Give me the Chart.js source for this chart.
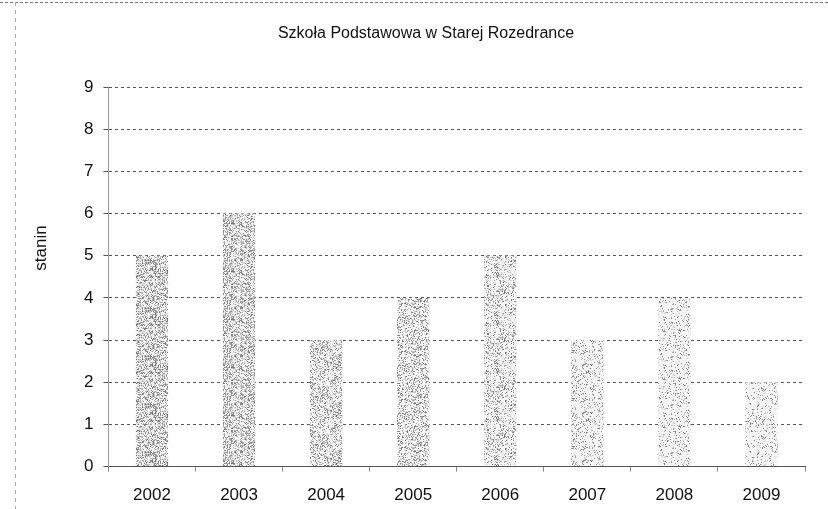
<!DOCTYPE html>
<html>
<head>
<meta charset="utf-8">
<script src="https://cdn.jsdelivr.net/npm/chart.js@4.4.1/dist/chart.umd.min.js"></script>
<style>
  html, body { margin: 0; padding: 0; background: #fff; }
  #wrap { position: relative; width: 828px; height: 509px; }
</style>
</head>
<body>
<div id="wrap"><canvas id="chart" width="828" height="509"></canvas></div>
<script>
const years = ["2002", "2003", "2004", "2005", "2006", "2007", "2008", "2009"];
const stanin = [5, 6, 3, 4, 5, 3, 4, 2];
const yTicks = [0, 1, 2, 3, 4, 5, 6, 7, 8, 9];

// grainy grey fill, lighter from left to right like the scan
function speckle(density, seed) {
    const c = document.createElement("canvas");
    c.width = 48; c.height = 48;
    const g = c.getContext("2d");
    g.fillStyle = "#f4f4f4";
    g.fillRect(0, 0, 48, 48);
    let s = seed;
    const rnd = () => { s = (s * 1103515245 + 12345) % 2147483648; return s / 2147483648; };
    for (let y = 0; y < 48; y++) {
        for (let x = 0; x < 48; x++) {
            if (rnd() < density) {
                const v = Math.floor(110 + rnd() * 110);
                g.fillStyle = "rgb(" + v + "," + v + "," + v + ")";
                g.fillRect(x, y, 1, 1);
            }
        }
    }
    return g.createPattern(c, "repeat");
}
const ctx = document.getElementById("chart").getContext("2d");
const densities = [0.5, 0.45, 0.4, 0.33, 0.28, 0.22, 0.18, 0.15];
const fills = densities.map((d, i) => speckle(d, 97 + i * 31));

// scan border, title and the rotated "stanin" label drawn by hand
// so they sit where the original puts them
const framePlugin = {
    id: "frame",
    beforeDraw(chart) {
        const c = chart.ctx;
        c.save();
        c.strokeStyle = "#777";
        c.lineWidth = 1;
        c.setLineDash([3, 2]);
        c.beginPath();
        c.moveTo(0, 2.5); c.lineTo(828, 2.5);
        c.stroke();
        c.strokeStyle = "#aaa";
        c.setLineDash([4, 4]);
        c.beginPath();
        c.moveTo(15.5, 2); c.lineTo(15.5, 509);
        c.stroke();
        c.setLineDash([]);
        c.fillStyle = "#111";
        c.textAlign = "center";
        c.textBaseline = "middle";
        c.font = "16px 'Liberation Sans', Arial";
        c.fillText("Szkoła Podstawowa w Starej Rozedrance", 426, 34);
        c.translate(41, 248);
        c.rotate(-Math.PI / 2);
        c.font = "17px 'Liberation Sans', Arial";
        c.fillText("stanin", 0, 0);
        c.restore();
    }
};

new Chart(ctx, {
    type: "bar",
    data: {
        labels: years,
        datasets: [{
            data: stanin,
            backgroundColor: fills,
            borderWidth: 0,
            barPercentage: 0.37,
            categoryPercentage: 1
        }]
    },
    plugins: [framePlugin],
    options: {
        responsive: false,
        animation: false,
        layout: { padding: { left: 74, right: 23, top: 87, bottom: -11 } },
        plugins: {
            legend: { display: false },
            tooltip: { enabled: false },
            title: { display: false }
        },
        scales: {
            x: {
                grid: { display: true, drawOnChartArea: false, drawTicks: true, tickLength: 5, color: "#888", offset: true },
                border: { display: true, color: "#555", dash: [3, 1] },
                ticks: { color: "#111", font: { family: "Liberation Sans, Arial", size: 17 }, padding: 14 }
            },
            y: {
                min: 0,
                max: 9,
                afterBuildTicks(axis) { axis.ticks = yTicks.map(v => ({ value: v })); },
                grid: { color: "#555", lineWidth: 1, tickLength: 5 },
                border: { display: true, color: "#999", dash: [3, 3] },
                ticks: { color: "#111", font: { family: "Liberation Sans, Arial", size: 17 }, padding: 10 }
            }
        }
    }
});
</script>
</body>
</html>
